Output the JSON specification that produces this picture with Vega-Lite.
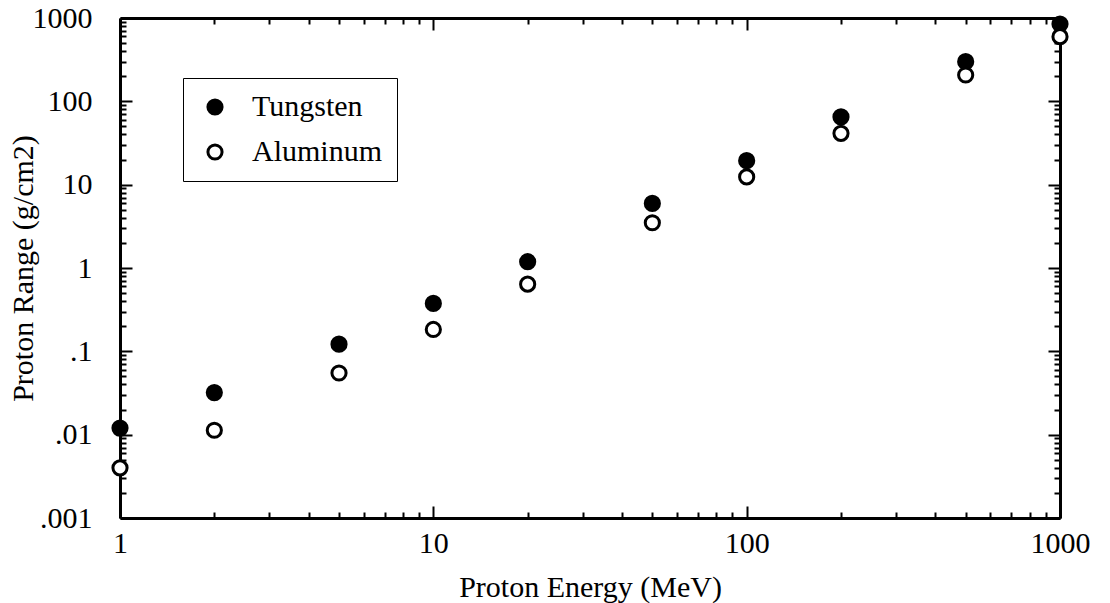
{
  "$schema": "https://vega.github.io/schema/vega-lite/v6.json",
  "autosize": "none",
  "width": 940,
  "height": 500,
  "padding": {"left": 120, "top": 18, "right": 50, "bottom": 85},
  "background": "white",
  "config": {
    "view": {"stroke": null},
    "font": "Liberation Serif",
    "axis": {
      "domainColor": "black",
      "domainWidth": 3,
      "tickColor": "black",
      "tickWidth": 2,
      "labelFont": "Liberation Serif",
      "labelFontSize": 30,
      "labelColor": "black",
      "titleFont": "Liberation Serif",
      "titleFontSize": 30,
      "titleFontWeight": "normal",
      "titleColor": "black",
      "grid": false,
      "labelOverlap": false,
      "labelFlush": false
    }
  },
  "data": {
    "values": [
      {"energy": 1, "range": 0.012, "material": "Tungsten"},
      {"energy": 2, "range": 0.032, "material": "Tungsten"},
      {"energy": 5, "range": 0.122, "material": "Tungsten"},
      {"energy": 10, "range": 0.376, "material": "Tungsten"},
      {"energy": 20, "range": 1.19, "material": "Tungsten"},
      {"energy": 50, "range": 5.96, "material": "Tungsten"},
      {"energy": 100, "range": 19.4, "material": "Tungsten"},
      {"energy": 200, "range": 65, "material": "Tungsten"},
      {"energy": 500, "range": 299, "material": "Tungsten"},
      {"energy": 1000, "range": 847, "material": "Tungsten"},
      {"energy": 1, "range": 0.004, "material": "Aluminum"},
      {"energy": 2, "range": 0.0113, "material": "Aluminum"},
      {"energy": 5, "range": 0.055, "material": "Aluminum"},
      {"energy": 10, "range": 0.183, "material": "Aluminum"},
      {"energy": 20, "range": 0.64, "material": "Aluminum"},
      {"energy": 50, "range": 3.49, "material": "Aluminum"},
      {"energy": 100, "range": 12.4, "material": "Aluminum"},
      {"energy": 200, "range": 41.3, "material": "Aluminum"},
      {"energy": 500, "range": 207, "material": "Aluminum"},
      {"energy": 1000, "range": 597, "material": "Aluminum"}
    ]
  },
  "layer": [
    {
      "mark": {"type": "point", "filled": true, "stroke": "black", "strokeWidth": 3, "size": 201, "opacity": 1},
      "encoding": {
        "x": {
          "field": "energy", "type": "quantitative",
          "scale": {"type": "log", "domain": [1, 1000], "nice": false},
          "axis": {
            "orient": "bottom",
            "title": "Proton Energy (MeV)",
            "titlePadding": 8,
            "labelPadding": 22,
            "values": [1,2,3,4,5,6,7,8,9,10,20,30,40,50,60,70,80,90,100,200,300,400,500,600,700,800,900,1000],
            "tickSize": {"condition": {"test": "abs(log(datum.value)/LN10 - round(log(datum.value)/LN10)) < 1e-6", "value": -12}, "value": -6},
            "labelExpr": "abs(log(datum.value)/LN10 - round(log(datum.value)/LN10)) < 1e-6 ? format(datum.value, 'd') : ''"
          }
        },
        "y": {
          "field": "range", "type": "quantitative",
          "scale": {"type": "log", "domain": [0.001, 1000], "nice": false},
          "axis": {
            "orient": "left",
            "title": "Proton Range (g/cm2)",
            "titlePadding": -6,
            "labelPadding": 40,
            "values": [0.001,0.002,0.003,0.004,0.005,0.006,0.007,0.008,0.009,0.01,0.02,0.03,0.04,0.05,0.06,0.07,0.08,0.09,0.1,0.2,0.3,0.4,0.5,0.6,0.7,0.8,0.9,1,2,3,4,5,6,7,8,9,10,20,30,40,50,60,70,80,90,100,200,300,400,500,600,700,800,900,1000],
            "tickSize": {"condition": {"test": "abs(log(datum.value)/LN10 - round(log(datum.value)/LN10)) < 1e-6", "value": -12}, "value": -6},
            "labelExpr": "abs(log(datum.value)/LN10 - round(log(datum.value)/LN10)) < 1e-6 ? (datum.value < 1 ? replace(format(datum.value, '~g'), '0.', '.') : format(datum.value, 'd')) : ''"
          }
        },
        "fill": {
          "field": "material", "type": "nominal",
          "scale": {"domain": ["Tungsten", "Aluminum"], "range": ["black", "white"]},
          "legend": {
            "title": null,
            "orient": "none",
            "legendX": 63,
            "legendY": 60,
            "strokeColor": "black",
            "fillColor": "white",
            "padding": 14,
            "symbolOffset": 3,
            "symbolSize": 200,
            "symbolType": "circle",
            "symbolStrokeColor": "black",
            "symbolStrokeWidth": 3,
            "labelFont": "Liberation Serif",
            "labelFontSize": 30,
            "labelColor": "black",
            "labelOffset": 22,
            "rowPadding": 15
          }
        }
      }
    },
    {
      "mark": {"type": "point", "opacity": 0},
      "encoding": {
        "x": {
          "field": "energy", "type": "quantitative",
          "scale": {"type": "log", "domain": [1, 1000], "nice": false},
          "axis": {
            "orient": "top",
            "title": null,
            "labels": false,
            "values": [1,2,3,4,5,6,7,8,9,10,20,30,40,50,60,70,80,90,100,200,300,400,500,600,700,800,900,1000],
            "tickSize": {"condition": {"test": "abs(log(datum.value)/LN10 - round(log(datum.value)/LN10)) < 1e-6", "value": -12}, "value": -6}
          }
        },
        "y": {
          "field": "range", "type": "quantitative",
          "scale": {"type": "log", "domain": [0.001, 1000], "nice": false},
          "axis": {
            "orient": "right",
            "title": null,
            "labels": false,
            "values": [0.001,0.002,0.003,0.004,0.005,0.006,0.007,0.008,0.009,0.01,0.02,0.03,0.04,0.05,0.06,0.07,0.08,0.09,0.1,0.2,0.3,0.4,0.5,0.6,0.7,0.8,0.9,1,2,3,4,5,6,7,8,9,10,20,30,40,50,60,70,80,90,100,200,300,400,500,600,700,800,900,1000],
            "tickSize": {"condition": {"test": "abs(log(datum.value)/LN10 - round(log(datum.value)/LN10)) < 1e-6", "value": -12}, "value": -6}
          }
        }
      }
    }
  ],
  "resolve": {"axis": {"x": "independent", "y": "independent"}}
}
